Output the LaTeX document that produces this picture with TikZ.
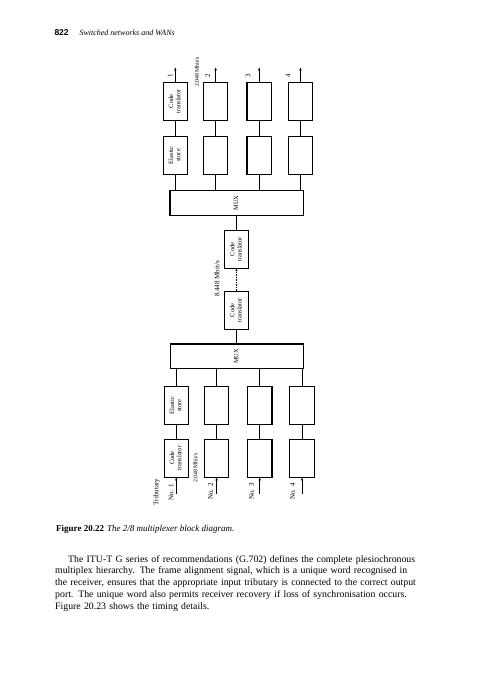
\documentclass[tikz,border=0pt]{standalone}
\usepackage{fontspec}
\setmainfont{Liberation Serif}
\newfontfamily\headfont{Liberation Sans}
\usepackage{graphicx}
\usetikzlibrary{positioning,arrows.meta}
\newcommand{\turned}[1]{\rotatebox{90}{\begin{tabular}{@{}c@{}}#1\end{tabular}}}

\begin{document}
\begin{tikzpicture}[
	x=1pt,y=-1pt,
	block/.style={ % 竖排的小方框
		draw, line width=1.1pt, inner sep=0pt,
		minimum width=24.5pt, minimum height=38pt,
		font=\fontsize{6.5}{7.4}\selectfont
	},
	muxbox/.style={
		draw, line width=1.1pt, inner sep=0pt,
		minimum width=133.5pt, minimum height=24.5pt,
		font=\fontsize{6.5}{7.4}\selectfont
	},
	tag/.style={rotate=90, inner sep=0pt, font=\fontsize{7}{8}\selectfont},
	rate/.style={rotate=90, inner sep=0pt, font=\fontsize{5.8}{7}\selectfont},
	wire/.style={line width=0.5pt},
	feed/.style={wire, -{Triangle[angle=45:1.5pt 3]}}
]
	\path[fill=white] (0,0) rectangle (481,680);
	\useasboundingbox (0,0) rectangle (481,680);
	%% 页眉
	\node[anchor=base west, inner sep=0pt, font=\headfont\bfseries\fontsize{8.5}{10}\selectfont] (page) at (54.3,35) {822};
	\node[anchor=base west, inner sep=0pt, font=\itshape\fontsize{8}{10}\selectfont] (running) at (79.3,35) {Switched networks and WANs};

	%% 上半部分
	\node[block] (cA1) at (175.3,101.2) {\turned{Code\\translator}};
	\node[block, right=14.7pt of cA1] (cA2) {};
	\node[block, right=18pt of cA2] (cA3) {};
	\node[block, right=15.7pt of cA3] (cA4) {};
	\node[block, below=15pt of cA1] (eA1) {\turned{Elastic\\store}};
	\node[block, below=15pt of cA2] (eA2) {};
	\node[block, below=15pt of cA3] (eA3) {};
	\node[block, below=15pt of cA4] (eA4) {};
	\node[muxbox] (mA) at (236.7,203) {\turned{MUX}};
	% 中间的两个码型变换
	\node[block] (tU) at (236.5,249.2) {\turned{Code\\translator}};
	\node[block, below=22pt of tU] (tL) {\turned{Code\\translator}};
	\node[muxbox] (mB) at (236.8,356.2) {\turned{MUX}};
	%% 下半部分
	\node[block] (eB1) at (176.3,405.5) {\turned{Elastic\\store}};
	\node[block, right=14.7pt of eB1] (eB2) {};
	\node[block, right=17.5pt of eB2] (eB3) {};
	\node[block, right=16.8pt of eB3] (eB4) {};
	\node[block, below=13.5pt of eB1] (cB1) {\turned{Code\\translator}};
	\node[block, below=13.5pt of eB2] (cB2) {};
	\node[block, below=13.5pt of eB3] (cB3) {};
	\node[block, below=13.5pt of eB4] (cB4) {};

	% 输入输出端
	\coordinate[above=14pt of cA1.north] (out1);
	\coordinate[above=14pt of cA2.north] (out2);
	\coordinate[above=14pt of cA3.north] (out3);
	\coordinate[above=14pt of cA4.north] (out4);
	\coordinate[below=16pt of cB1.south] (in1);
	\coordinate[below=16pt of cB2.south] (in2);
	\coordinate[below=16pt of cB3.south] (in3);
	\coordinate[below=16pt of cB4.south] (in4);

	% 连线
	\draw[wire] (cA1) -- (eA1) (cA2) -- (eA2) (cA3) -- (eA3) (cA4) -- (eA4);
	\draw[wire] (eA1) -- (eA1 |- mA.north) (eA2) -- (eA2 |- mA.north)
		(eA3) -- (eA3 |- mA.north) (eA4) -- (eA4 |- mA.north);
	\draw[wire] (tU) -- (tU |- mA.south);
	\draw[line width=0.4pt, dash pattern=on 1.5pt off 1pt, -{Triangle[angle=45:1.5pt 3]}] (tL) -- (tU);
	\draw[wire] (tL) -- (tL |- mB.north);
	\draw[wire] (eB1) -- (eB1 |- mB.south) (eB2) -- (eB2 |- mB.south)
		(eB3) -- (eB3 |- mB.south) (eB4) -- (eB4 |- mB.south);
	\draw[wire] (cB1) -- (eB1) (cB2) -- (eB2) (cB3) -- (eB3) (cB4) -- (eB4);
	\draw[feed] (cA1) -- (out1);
	\draw[feed] (cA2) -- (out2);
	\draw[feed] (cA3) -- (out3);
	\draw[feed] (cA4) -- (out4);
	\draw[feed] (in1) -- (cB1);
	\draw[feed] (in2) -- (cB2);
	\draw[feed] (in3) -- (cB3);
	\draw[feed] (in4) -- (cB4);

	% 标注
	\node[tag] (k1) at (170,76) {1};
	\node[tag] (k2) at (207.5,76) {2};
	\node[tag] (k3) at (248,76) {3};
	\node[tag] (k4) at (288,75.5) {4};
	\node[rate] (rOut) at (196.8,72) {2.048 Mbit/s};
	\node[tag] (rMid) at (217,279) {8.448 Mbit/s};
	\node[tag] (trib) at (156.7,492) {Tributary};
	\node[tag] (no1) at (171,492) {No. 1};
	\node[rate] (rIn) at (195.5,468) {2.048 Mbit/s};
	\node[tag] (no2) at (210.7,491.5) {No. 2};
	\node[tag] (no3) at (251.7,491.5) {No. 3};
	\node[tag] (no4) at (292.7,491.5) {No. 4};

	%% 图题与正文
	\node[anchor=base west, inner sep=0pt, font=\fontsize{9}{11}\selectfont] (caption) at (56,531.5)
		{\textbf{Figure 20.22}\hspace{3pt}\textit{The 2/8 multiplexer block diagram.}};
	\node[anchor=base west, inner sep=0pt, text width=361pt, align=left, font=\fontsize{9.8}{11.9}\selectfont] (body) at (55,562)
		{\hspace*{13pt}\makebox[348pt][s]{The ITU-T G series of recommendations (G.702) defines the complete plesiochronous}\\
		\makebox[361pt][s]{multiplex hierarchy. The frame alignment signal, which is a unique word recognised in}\\
		\makebox[361pt][s]{the receiver, ensures that the appropriate input tributary is connected to the correct output}\\
		\makebox[361pt][s]{port. The unique word also permits receiver recovery if loss of synchronisation occurs.}\\
		Figure 20.23 shows the timing details.};
\end{tikzpicture}
\end{document}
